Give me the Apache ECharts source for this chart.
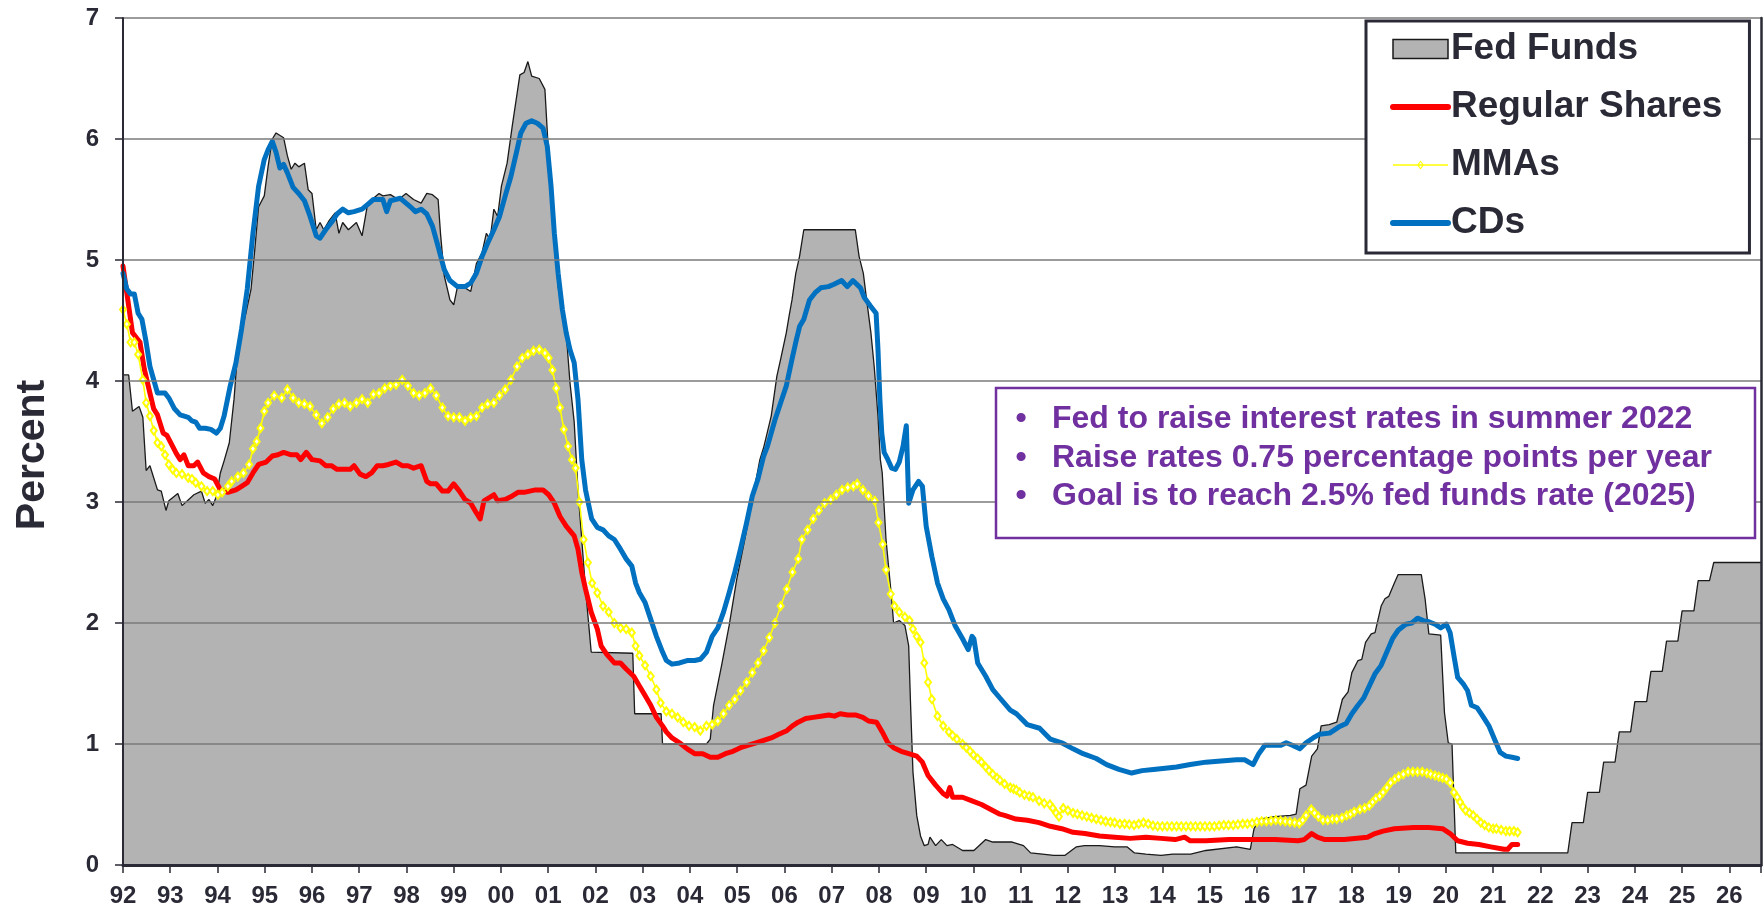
<!DOCTYPE html>
<html>
<head>
<meta charset="utf-8">
<script src="https://cdn.jsdelivr.net/npm/echarts/dist/echarts.min.js"></script>
<style>
  html, body { margin: 0; padding: 0; background: #fff; }
  #chart { width: 1764px; height: 911px; }
</style>
</head>
<body>
<div id="chart"></div>
<script>
// [year, percent]
var fedFunds = [
  [1992.0,4.05],[1992.12,4.05],[1992.2,3.75],[1992.34,3.79],[1992.42,3.7],[1992.49,3.26],[1992.57,3.3],[1992.73,3.1],[1992.81,3.09],[1992.91,2.93],[1992.97,3.01],[1993.16,3.07],[1993.25,2.97],[1993.5,3.06],[1993.66,3.09],[1993.74,2.99],[1993.82,3.02],[1993.9,2.97],[1993.98,3.05],[1994.06,3.24],[1994.14,3.34],[1994.25,3.49],[1994.35,3.85],[1994.43,4.26],[1994.59,4.54],[1994.71,4.76],[1994.79,5.09],[1994.87,5.44],[1994.99,5.53],[1995.07,5.77],[1995.16,6.0],[1995.24,6.05],[1995.4,6.01],[1995.48,5.86],[1995.56,5.75],[1995.64,5.8],[1995.72,5.77],[1995.84,5.8],[1995.92,5.58],[1996.0,5.55],[1996.09,5.25],[1996.17,5.31],[1996.25,5.25],[1996.37,5.33],[1996.49,5.39],[1996.57,5.22],[1996.65,5.31],[1996.77,5.25],[1996.94,5.31],[1997.06,5.2],[1997.18,5.47],[1997.3,5.51],[1997.42,5.55],[1997.5,5.53],[1997.66,5.54],[1997.83,5.5],[1997.99,5.55],[1998.15,5.5],[1998.31,5.47],[1998.43,5.55],[1998.55,5.54],[1998.67,5.5],[1998.72,5.22],[1998.8,4.87],[1998.92,4.67],[1999.0,4.63],[1999.08,4.78],[1999.2,4.78],[1999.36,4.74],[1999.48,4.97],[1999.6,5.06],[1999.69,5.22],[1999.77,5.17],[1999.85,5.42],[1999.93,5.36],[2000.01,5.61],[2000.13,5.8],[2000.24,6.11],[2000.4,6.53],[2000.49,6.55],[2000.57,6.64],[2000.65,6.52],[2000.81,6.5],[2000.93,6.41],[2001.01,5.86],[2001.13,5.22],[2001.21,4.78],[2001.38,4.4],[2001.46,3.99],[2001.55,3.66],[2001.63,3.1],[2001.71,2.69],[2001.79,2.28],[2001.91,1.76],[2002.79,1.75],[2002.83,1.25],[2003.39,1.25],[2003.42,1.0],[2004.35,1.0],[2004.43,1.04],[2004.5,1.32],[2004.67,1.65],[2004.83,1.98],[2004.99,2.36],[2005.16,2.69],[2005.32,3.02],[2005.48,3.35],[2005.56,3.45],[2005.72,3.71],[2005.84,4.04],[2005.92,4.18],[2006.04,4.4],[2006.1,4.54],[2006.16,4.67],[2006.24,4.89],[2006.32,5.03],[2006.41,5.25],[2007.5,5.25],[2007.58,5.03],[2007.67,4.89],[2007.74,4.67],[2007.83,4.4],[2007.9,4.12],[2007.98,3.71],[2008.03,3.35],[2008.07,3.24],[2008.15,2.69],[2008.27,2.2],[2008.31,2.0],[2008.43,2.02],[2008.55,1.98],[2008.63,1.81],[2008.67,1.32],[2008.72,0.77],[2008.8,0.41],[2008.88,0.24],[2008.96,0.16],[2009.04,0.17],[2009.08,0.23],[2009.2,0.16],[2009.32,0.21],[2009.44,0.16],[2009.56,0.17],[2009.77,0.12],[2010.01,0.12],[2010.26,0.21],[2010.41,0.19],[2010.58,0.19],[2010.82,0.19],[2011.06,0.16],[2011.21,0.1],[2011.46,0.09],[2011.7,0.08],[2011.94,0.08],[2012.18,0.15],[2012.35,0.16],[2012.67,0.16],[2012.99,0.15],[2013.25,0.15],[2013.41,0.1],[2013.65,0.09],[2013.97,0.08],[2014.22,0.09],[2014.6,0.09],[2014.92,0.12],[2015.57,0.15],[2015.86,0.13],[2015.94,0.3],[2016.06,0.38],[2016.38,0.4],[2016.71,0.41],[2016.83,0.42],[2016.91,0.63],[2017.04,0.66],[2017.16,0.9],[2017.28,0.96],[2017.36,1.15],[2017.53,1.16],[2017.69,1.18],[2017.81,1.37],[2017.93,1.43],[2018.01,1.59],[2018.14,1.69],[2018.22,1.7],[2018.3,1.84],[2018.42,1.91],[2018.5,1.92],[2018.63,2.14],[2018.71,2.2],[2018.79,2.22],[2018.91,2.33],[2018.99,2.4],[2019.48,2.4],[2019.56,2.2],[2019.64,1.91],[2019.89,1.9],[2019.97,1.26],[2020.05,1.01],[2020.13,1.0],[2020.21,0.1],
  [2022.58,0.1],[2022.67,0.35],[2022.91,0.35],[2023.0,0.6],[2023.25,0.6],[2023.34,0.85],[2023.58,0.85],[2023.67,1.1],[2023.91,1.1],[2024.0,1.35],[2024.25,1.35],[2024.34,1.6],[2024.58,1.6],[2024.67,1.85],[2024.91,1.85],[2025.0,2.1],[2025.25,2.1],[2025.34,2.35],[2025.58,2.35],[2025.67,2.5],[2026.67,2.5]
];

var regularShares = [
  [1992.0,4.95],[1992.08,4.73],[1992.16,4.51],[1992.2,4.4],[1992.28,4.36],[1992.36,4.32],[1992.45,4.1],[1992.57,3.9],[1992.65,3.77],[1992.73,3.72],[1992.85,3.57],[1992.93,3.55],[1993.01,3.49],[1993.13,3.4],[1993.21,3.35],[1993.29,3.39],[1993.38,3.3],[1993.5,3.3],[1993.58,3.33],[1993.7,3.24],[1993.82,3.21],[1993.94,3.19],[1994.06,3.1],[1994.22,3.08],[1994.39,3.1],[1994.51,3.13],[1994.63,3.16],[1994.75,3.24],[1994.87,3.31],[1995.03,3.33],[1995.16,3.38],[1995.28,3.39],[1995.4,3.41],[1995.56,3.39],[1995.68,3.39],[1995.76,3.35],[1995.88,3.41],[1996.0,3.35],[1996.17,3.34],[1996.29,3.3],[1996.41,3.3],[1996.53,3.27],[1996.69,3.27],[1996.81,3.27],[1996.89,3.3],[1997.02,3.23],[1997.14,3.21],[1997.26,3.24],[1997.38,3.3],[1997.5,3.3],[1997.62,3.31],[1997.78,3.33],[1997.91,3.3],[1998.03,3.3],[1998.15,3.28],[1998.31,3.3],[1998.43,3.17],[1998.51,3.15],[1998.63,3.15],[1998.76,3.09],[1998.88,3.09],[1999.0,3.15],[1999.12,3.09],[1999.24,3.02],[1999.36,2.99],[1999.48,2.91],[1999.56,2.86],[1999.64,3.01],[1999.77,3.04],[1999.85,3.06],[1999.93,3.01],[2000.09,3.02],[2000.24,3.05],[2000.36,3.08],[2000.49,3.08],[2000.61,3.09],[2000.73,3.1],[2000.89,3.1],[2001.01,3.06],[2001.13,2.99],[2001.25,2.88],[2001.38,2.8],[2001.55,2.72],[2001.63,2.61],[2001.71,2.42],[2001.79,2.28],[2001.91,2.09],[2002.04,1.95],[2002.12,1.81],[2002.24,1.74],[2002.4,1.67],[2002.53,1.67],[2002.65,1.62],[2002.81,1.56],[2002.93,1.48],[2003.05,1.4],[2003.17,1.32],[2003.29,1.22],[2003.42,1.15],[2003.5,1.1],[2003.62,1.05],[2003.78,1.01],[2003.94,0.96],[2004.1,0.92],[2004.27,0.92],[2004.43,0.89],[2004.59,0.89],[2004.75,0.92],[2004.91,0.94],[2005.07,0.97],[2005.24,0.99],[2005.4,1.01],[2005.56,1.03],[2005.72,1.05],[2005.88,1.08],[2006.05,1.11],[2006.17,1.15],[2006.29,1.18],[2006.45,1.21],[2006.61,1.22],[2006.77,1.23],[2006.94,1.24],[2007.06,1.23],[2007.18,1.25],[2007.34,1.24],[2007.5,1.24],[2007.66,1.22],[2007.78,1.19],[2007.95,1.18],[2008.07,1.1],[2008.19,1.01],[2008.31,0.97],[2008.47,0.94],[2008.63,0.92],[2008.8,0.9],[2008.92,0.85],[2009.04,0.74],[2009.2,0.66],[2009.36,0.59],[2009.44,0.57],[2009.5,0.64],[2009.56,0.56],[2009.77,0.56],[2009.97,0.53],[2010.17,0.5],[2010.41,0.45],[2010.56,0.42],[2010.66,0.41],[2010.9,0.38],[2011.14,0.37],[2011.39,0.35],[2011.63,0.32],[2011.87,0.3],[2012.11,0.27],[2012.36,0.26],[2012.67,0.24],[2012.99,0.23],[2013.32,0.22],[2013.65,0.23],[2013.97,0.22],[2014.27,0.21],[2014.47,0.23],[2014.59,0.2],[2014.92,0.2],[2015.41,0.21],[2015.9,0.21],[2016.38,0.21],[2016.87,0.2],[2017.0,0.21],[2017.16,0.26],[2017.28,0.23],[2017.44,0.21],[2017.85,0.21],[2018.34,0.23],[2018.5,0.26],[2018.67,0.28],[2018.91,0.3],[2019.32,0.31],[2019.64,0.31],[2019.93,0.3],[2020.09,0.26],[2020.25,0.2],[2020.46,0.18],[2020.7,0.17],[2020.95,0.15],[2021.23,0.13],[2021.31,0.13],[2021.4,0.17],[2021.52,0.17]
];

var mmas = [
  [1992.0,4.59],[1992.08,4.47],[1992.16,4.32],[1992.24,4.32],[1992.32,4.22],[1992.42,4.01],[1992.49,3.82],[1992.57,3.71],[1992.65,3.59],[1992.73,3.49],[1992.81,3.46],[1992.89,3.39],[1992.97,3.31],[1993.05,3.27],[1993.13,3.24],[1993.25,3.23],[1993.38,3.2],[1993.46,3.19],[1993.54,3.16],[1993.66,3.13],[1993.78,3.09],[1993.9,3.09],[1994.01,3.06],[1994.1,3.08],[1994.22,3.13],[1994.3,3.17],[1994.43,3.21],[1994.55,3.24],[1994.67,3.31],[1994.75,3.44],[1994.83,3.5],[1994.91,3.61],[1994.99,3.75],[1995.07,3.82],[1995.2,3.88],[1995.36,3.86],[1995.48,3.93],[1995.6,3.86],[1995.72,3.82],[1995.84,3.81],[1995.96,3.79],[1996.09,3.72],[1996.21,3.65],[1996.33,3.7],[1996.45,3.77],[1996.57,3.81],[1996.69,3.82],[1996.81,3.79],[1996.94,3.82],[1997.06,3.85],[1997.18,3.82],[1997.3,3.89],[1997.42,3.9],[1997.54,3.94],[1997.66,3.96],[1997.78,3.97],[1997.91,4.01],[1998.03,3.96],[1998.15,3.9],[1998.27,3.88],[1998.39,3.9],[1998.51,3.94],[1998.63,3.88],[1998.76,3.78],[1998.88,3.71],[1999.0,3.7],[1999.12,3.7],[1999.24,3.67],[1999.36,3.7],[1999.48,3.71],[1999.6,3.78],[1999.72,3.81],[1999.85,3.82],[1999.97,3.88],[2000.09,3.93],[2000.21,4.01],[2000.34,4.12],[2000.45,4.19],[2000.57,4.22],[2000.69,4.25],[2000.81,4.26],[2000.93,4.23],[2001.01,4.19],[2001.09,4.09],[2001.17,3.94],[2001.25,3.78],[2001.33,3.6],[2001.42,3.46],[2001.5,3.35],[2001.58,3.28],[2001.66,3.0],[2001.75,2.69],[2001.84,2.5],[2001.93,2.33],[2002.04,2.25],[2002.16,2.14],[2002.28,2.09],[2002.4,2.0],[2002.53,1.96],[2002.65,1.95],[2002.77,1.92],[2002.85,1.81],[2002.93,1.73],[2003.05,1.65],[2003.17,1.56],[2003.29,1.45],[2003.38,1.34],[2003.5,1.27],[2003.62,1.25],[2003.74,1.22],[2003.86,1.18],[2003.98,1.15],[2004.1,1.14],[2004.22,1.11],[2004.35,1.15],[2004.47,1.16],[2004.59,1.19],[2004.71,1.25],[2004.83,1.32],[2004.95,1.37],[2005.07,1.44],[2005.2,1.51],[2005.32,1.59],[2005.44,1.67],[2005.56,1.77],[2005.68,1.88],[2005.8,2.0],[2005.92,2.14],[2006.05,2.28],[2006.17,2.42],[2006.29,2.53],[2006.37,2.69],[2006.49,2.77],[2006.61,2.86],[2006.73,2.93],[2006.85,2.99],[2006.98,3.02],[2007.1,3.06],[2007.22,3.1],[2007.34,3.12],[2007.46,3.13],[2007.54,3.15],[2007.66,3.1],[2007.78,3.05],[2007.91,3.01],[2007.99,2.83],[2008.08,2.65],[2008.15,2.44],[2008.25,2.24],[2008.33,2.14],[2008.43,2.09],[2008.55,2.05],[2008.65,2.02],[2008.72,1.95],[2008.8,1.89],[2008.88,1.84],[2008.96,1.67],[2009.04,1.51],[2009.12,1.37],[2009.24,1.23],[2009.36,1.15],[2009.48,1.1],[2009.56,1.07],[2009.65,1.04],[2009.77,1.0],[2009.85,0.97],[2009.93,0.94],[2010.0,0.91],[2010.09,0.88],[2010.17,0.85],[2010.26,0.81],[2010.33,0.78],[2010.41,0.75],[2010.5,0.72],[2010.56,0.7],[2010.66,0.67],[2010.78,0.64],[2010.85,0.63],[2010.91,0.62],[2010.98,0.6],[2011.08,0.58],[2011.18,0.57],[2011.26,0.56],[2011.39,0.53],[2011.5,0.51],[2011.62,0.5],[2011.68,0.47],[2011.75,0.43],[2011.81,0.4],[2011.9,0.47],[2012.0,0.45],[2012.11,0.43],[2012.2,0.42],[2012.3,0.41],[2012.4,0.4],[2012.5,0.39],[2012.6,0.38],[2012.7,0.37],[2012.8,0.36],[2012.9,0.355],[2012.99,0.35],[2013.1,0.34],[2013.2,0.34],[2013.3,0.335],[2013.4,0.33],[2013.5,0.34],[2013.6,0.35],[2013.7,0.34],[2013.8,0.325],[2013.9,0.32],[2014.0,0.32],[2014.1,0.32],[2014.2,0.32],[2014.3,0.32],[2014.4,0.32],[2014.5,0.32],[2014.6,0.32],[2014.7,0.32],[2014.8,0.32],[2014.9,0.32],[2015.0,0.32],[2015.1,0.32],[2015.2,0.325],[2015.3,0.33],[2015.4,0.33],[2015.5,0.33],[2015.6,0.335],[2015.7,0.34],[2015.8,0.34],[2015.9,0.345],[2016.0,0.355],[2016.1,0.36],[2016.2,0.36],[2016.3,0.365],[2016.4,0.37],[2016.5,0.365],[2016.6,0.36],[2016.7,0.355],[2016.8,0.35],[2016.9,0.345],[2016.97,0.37],[2017.04,0.41],[2017.15,0.46],[2017.22,0.43],[2017.3,0.4],[2017.4,0.37],[2017.5,0.37],[2017.6,0.38],[2017.69,0.38],[2017.8,0.39],[2017.9,0.41],[2017.98,0.42],[2018.06,0.44],[2018.18,0.46],[2018.28,0.47],[2018.38,0.49],[2018.45,0.52],[2018.52,0.55],[2018.6,0.57],[2018.67,0.6],[2018.75,0.64],[2018.83,0.68],[2018.92,0.71],[2019.0,0.73],[2019.1,0.75],[2019.2,0.77],[2019.3,0.77],[2019.4,0.77],[2019.5,0.77],[2019.6,0.76],[2019.68,0.75],[2019.77,0.74],[2019.85,0.73],[2019.93,0.72],[2020.01,0.71],[2020.09,0.68],[2020.17,0.6],[2020.24,0.56],[2020.3,0.52],[2020.36,0.48],[2020.42,0.45],[2020.5,0.43],[2020.58,0.41],[2020.66,0.38],[2020.74,0.35],[2020.82,0.33],[2020.91,0.31],[2021.0,0.3],[2021.07,0.3],[2021.17,0.29],[2021.27,0.28],[2021.35,0.28],[2021.44,0.28],[2021.52,0.27]
];

var cds = [
  [1992.0,4.89],[1992.08,4.76],[1992.16,4.72],[1992.24,4.72],[1992.32,4.56],[1992.4,4.51],[1992.49,4.32],[1992.57,4.12],[1992.65,4.01],[1992.73,3.9],[1992.89,3.9],[1992.97,3.86],[1993.09,3.77],[1993.21,3.72],[1993.38,3.7],[1993.46,3.67],[1993.54,3.66],[1993.62,3.61],[1993.74,3.61],[1993.86,3.6],[1993.98,3.57],[1994.06,3.61],[1994.14,3.71],[1994.27,3.96],[1994.39,4.15],[1994.51,4.43],[1994.63,4.76],[1994.75,5.22],[1994.87,5.61],[1994.99,5.83],[1995.07,5.91],[1995.16,5.98],[1995.24,5.89],[1995.32,5.76],[1995.4,5.79],[1995.48,5.72],[1995.6,5.6],[1995.72,5.55],[1995.84,5.49],[1995.96,5.36],[1996.09,5.2],[1996.17,5.18],[1996.29,5.25],[1996.41,5.31],[1996.53,5.38],[1996.65,5.42],[1996.77,5.39],[1996.89,5.4],[1997.06,5.42],[1997.18,5.46],[1997.3,5.5],[1997.42,5.5],[1997.5,5.5],[1997.58,5.4],[1997.66,5.49],[1997.87,5.51],[1997.99,5.47],[1998.11,5.43],[1998.19,5.4],[1998.31,5.42],[1998.43,5.38],[1998.55,5.28],[1998.67,5.11],[1998.8,4.92],[1998.92,4.83],[1999.08,4.78],[1999.24,4.78],[1999.36,4.81],[1999.48,4.89],[1999.6,5.03],[1999.72,5.14],[1999.85,5.25],[1999.97,5.36],[2000.09,5.53],[2000.21,5.69],[2000.34,5.91],[2000.42,6.05],[2000.53,6.13],[2000.65,6.15],[2000.77,6.13],[2000.89,6.09],[2000.98,5.94],[2001.06,5.61],[2001.13,5.22],[2001.21,4.89],[2001.3,4.59],[2001.38,4.4],[2001.46,4.26],[2001.55,4.15],[2001.63,3.85],[2001.71,3.35],[2001.79,3.1],[2001.92,2.86],[2002.04,2.79],[2002.16,2.77],[2002.28,2.72],[2002.4,2.69],[2002.53,2.61],[2002.65,2.53],[2002.77,2.47],[2002.85,2.33],[2002.93,2.25],[2003.05,2.17],[2003.17,2.03],[2003.29,1.89],[2003.42,1.76],[2003.5,1.69],[2003.62,1.66],[2003.78,1.67],[2003.94,1.69],[2004.1,1.69],[2004.22,1.7],[2004.35,1.76],[2004.47,1.89],[2004.59,1.96],[2004.71,2.09],[2004.83,2.25],[2004.95,2.42],[2005.07,2.61],[2005.2,2.83],[2005.32,3.05],[2005.44,3.19],[2005.56,3.38],[2005.64,3.46],[2005.72,3.57],[2005.8,3.68],[2005.92,3.82],[2006.04,3.96],[2006.16,4.18],[2006.24,4.32],[2006.32,4.45],[2006.41,4.51],[2006.53,4.67],[2006.65,4.73],[2006.77,4.77],[2006.93,4.78],[2007.05,4.8],[2007.21,4.83],[2007.33,4.78],[2007.45,4.83],[2007.61,4.77],[2007.69,4.69],[2007.82,4.62],[2007.94,4.56],[2007.98,4.26],[2008.02,3.85],[2008.06,3.57],[2008.11,3.41],[2008.19,3.35],[2008.27,3.28],[2008.35,3.27],[2008.43,3.33],[2008.51,3.46],[2008.58,3.63],[2008.63,2.99],[2008.72,3.1],[2008.84,3.17],[2008.92,3.13],[2009.0,2.8],[2009.12,2.55],[2009.24,2.33],[2009.36,2.2],[2009.48,2.11],[2009.61,1.98],[2009.77,1.87],[2009.89,1.78],[2009.97,1.89],[2010.01,1.87],[2010.09,1.67],[2010.26,1.56],[2010.41,1.45],[2010.56,1.38],[2010.78,1.28],[2010.91,1.25],[2011.14,1.16],[2011.4,1.13],[2011.63,1.04],[2011.87,1.01],[2012.11,0.96],[2012.32,0.92],[2012.6,0.88],[2012.82,0.83],[2013.08,0.79],[2013.35,0.76],[2013.57,0.78],[2013.81,0.79],[2014.06,0.8],[2014.3,0.81],[2014.59,0.83],[2014.92,0.85],[2015.24,0.86],[2015.57,0.87],[2015.74,0.87],[2015.92,0.83],[2016.04,0.92],[2016.17,0.99],[2016.4,0.99],[2016.51,0.99],[2016.62,1.01],[2016.75,0.99],[2016.91,0.96],[2017.04,1.01],[2017.19,1.05],[2017.32,1.08],[2017.54,1.09],[2017.73,1.14],[2017.89,1.17],[2018.01,1.25],[2018.14,1.32],[2018.26,1.38],[2018.38,1.48],[2018.5,1.58],[2018.63,1.65],[2018.75,1.76],[2018.87,1.87],[2018.99,1.94],[2019.15,1.99],[2019.28,2.0],[2019.4,2.04],[2019.52,2.02],[2019.64,2.01],[2019.77,1.99],[2019.89,1.96],[2020.01,1.99],[2020.09,1.92],[2020.17,1.73],[2020.25,1.55],[2020.38,1.49],[2020.46,1.44],[2020.54,1.32],[2020.66,1.3],[2020.78,1.23],[2020.91,1.15],[2021.03,1.04],[2021.15,0.93],[2021.27,0.9],[2021.4,0.89],[2021.52,0.88]
];

var seriesNames = ['Fed Funds', 'Regular Shares', 'MMAs', 'CDs'];
var notes = [
  'Fed to raise interest rates in summer 2022',
  'Raise rates 0.75 percentage points per year',
  'Goal is to reach 2.5% fed funds rate (2025)'
];

var FONT = '"Liberation Sans", Arial, sans-serif';
var INK = '#2a2a36';
var PURPLE = '#7030a0';
var RED = '#ff0000';
var BLUE = '#0070c0';
var YELLOW = '#ffff00';
var GRAY = '#b3b3b3';

// thin line with a small hollow diamond, drawn in a 55x19 legend cell
var MMA_ICON = 'path://M0,0L0.05,0L0.05,0.05Z M54.95,18.95L55,18.95L55,19Z ' +
  'M0,8.75L55,8.75L55,10.25L0,10.25Z ' +
  'M27.5,5L31,9.5L27.5,14L24,9.5Z M27.5,6.6L25.6,9.5L27.5,12.4L29.4,9.5Z';

var chart = echarts.init(document.getElementById('chart'));

var graphics = [
  {
    type: 'text', x: 33, y: 455, rotation: Math.PI / 2, z: 100,
    style: { text: 'Percent', font: 'bold 41px ' + FONT, fill: INK, align: 'center', verticalAlign: 'middle' }
  },
  {
    type: 'rect', z: 100,
    shape: { x: 996, y: 388, width: 759, height: 150 },
    style: { fill: '#fff', stroke: PURPLE, lineWidth: 2.5 }
  }
];
var noteY = [419, 458, 496];
notes.forEach(function (t, i) {
  graphics.push({
    type: 'text', x: 1021, y: noteY[i], z: 101,
    style: { text: '\u2022', font: 'bold 32px ' + FONT, fill: PURPLE, align: 'center', verticalAlign: 'middle' }
  });
  graphics.push({
    type: 'text', x: 1052, y: noteY[i], z: 101,
    style: { text: t, font: 'bold 32px ' + FONT, fill: PURPLE, align: 'left', verticalAlign: 'middle' }
  });
});

var option = {
  animation: false,
  backgroundColor: '#fff',
  textStyle: { fontFamily: FONT },
  grid: { left: 123, right: 3, top: 18, bottom: 46, outerBoundsMode: 'none', containLabel: false },
  legend: {
    orient: 'vertical',
    left: 1366,
    top: 21,
    padding: [8, 27, 10, 24],
    itemWidth: 55,
    itemHeight: 19,
    itemGap: 18,
    backgroundColor: '#fff',
    borderColor: INK,
    borderWidth: 3,
    z: 50,
    textStyle: { fontSize: 37, fontWeight: 'bold', color: INK, fontFamily: FONT, lineHeight: 40, padding: [0, 0, 0, -2] },
    data: [
      { name: 'Fed Funds', icon: 'rect', itemStyle: { color: GRAY, borderColor: '#1a1a1a', borderWidth: 1.5 } },
      { name: 'Regular Shares', itemStyle: { opacity: 0 }, lineStyle: { color: RED, width: 6, cap: 'round' } },
      { name: 'MMAs', icon: MMA_ICON, itemStyle: { color: YELLOW, borderWidth: 0 } },
      { name: 'CDs', itemStyle: { opacity: 0 }, lineStyle: { color: BLUE, width: 6, cap: 'round' } }
    ]
  },
  xAxis: {
    type: 'value',
    min: 1992,
    max: 2026.67,
    interval: 1,
    z: 10,
    axisLine: { show: true, lineStyle: { color: INK, width: 3 } },
    axisTick: { show: true, length: 8, lineStyle: { color: INK, width: 1.5 } },
    axisLabel: {
      margin: 19, fontSize: 24, fontWeight: 'bold', color: INK, fontFamily: FONT,
      formatter: function (v) { return v % 1 === 0 ? String(v).slice(2) : ''; }
    },
    splitLine: { show: false }
  },
  yAxis: [
    {
      type: 'value',
      min: 0, max: 7, interval: 1,
      z: 10,
      axisLine: { show: true, lineStyle: { color: INK, width: 2 } },
      axisTick: { show: true, length: 8, lineStyle: { color: INK, width: 1.5 } },
      axisLabel: { margin: 24, fontSize: 24, fontWeight: 'bold', color: INK, fontFamily: FONT },
      splitLine: { show: true, lineStyle: { color: '#7a7a7a', width: 1.5 } }
    },
    {
      type: 'value', position: 'right',
      min: 0, max: 7, interval: 1,
      z: 10,
      axisLine: { show: true, lineStyle: { color: INK, width: 2.5 } },
      axisTick: { show: false },
      axisLabel: { show: false },
      splitLine: { show: false }
    }
  ],
  series: [
    {
      name: seriesNames[0], type: 'line', data: fedFunds,
      color: GRAY,
      symbol: 'none',
      lineStyle: { color: '#1a1a1a', width: 1.3 },
      areaStyle: { color: GRAY, opacity: 1 },
      z: 1
    },
    {
      name: seriesNames[1], type: 'line', data: regularShares,
      color: RED,
      symbol: 'none',
      lineStyle: { color: RED, width: 5, cap: 'round', join: 'round' },
      z: 3
    },
    {
      name: seriesNames[2], type: 'line', data: mmas,
      color: YELLOW,
      symbol: 'emptyDiamond',
      symbolSize: [6, 8],
      showSymbol: true,
      showAllSymbol: true,
      itemStyle: { color: YELLOW, borderColor: YELLOW, borderWidth: 1.5 },
      lineStyle: { color: YELLOW, width: 1.6 },
      z: 4
    },
    {
      name: seriesNames[3], type: 'line', data: cds,
      color: BLUE,
      symbol: 'none',
      lineStyle: { color: BLUE, width: 5, cap: 'round', join: 'round' },
      z: 5
    }
  ],
  graphic: graphics
};

chart.setOption(option);
</script>
</body>
</html>
